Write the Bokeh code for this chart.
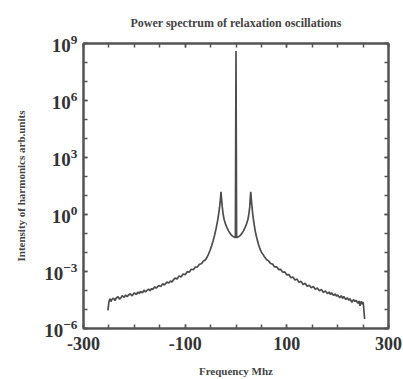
from bokeh.plotting import figure
from bokeh.models import (LinearAxis, LogAxis, FixedTicker, ColumnDataSource,
                          CustomJSTickFormatter)
from bokeh.embed import file_html
from bokeh.resources import INLINE

# ---- data ----
freq_mhz = [
    -252, -250, -248, -246, -244, -241, -238, -236, -232, -229, -226, -224, -220, -217, -214, -212, -208, -205, -202,
    -200, -196, -193, -190, -188, -184, -181, -178, -176, -172, -169, -166, -164, -160, -157, -154, -152, -148,
    -144, -141, -138, -136, -132, -129, -126, -124, -120, -116, -112, -108, -104, -100, -96, -92,
    -88, -84, -80, -76, -72, -68, -64, -60, -57, -54, -51, -48, -45, -42, -39, -36,
    -34, -32, -30.5, -29.5, -28.5, -27, -25.5, -23.5, -21, -18, -15, -12, -9, -6, -3,
    -1.2, -0.6, 0, 0.6, 1.2, 3, 6, 9, 12, 15, 18, 21, 23.5, 25.5, 27, 28, 29, 30,
    31.5, 33, 35, 38, 41, 44, 47, 50, 53, 56, 60, 64, 68, 72, 76, 80, 84, 88, 92, 96,
    100, 104, 108, 112, 116, 120, 124, 128, 132, 136, 140, 144, 148, 152, 156, 160,
    164, 168, 172, 176, 180, 183, 186, 188, 192, 195, 198, 200, 204, 207, 210, 212, 216, 219, 222, 224,
    228, 231, 234, 236, 240, 242, 244, 246, 248, 250, 251, 253,
]
log10_intensity = [
    -5.05, -4.60, -4.44, -4.58, -4.47, -4.40, -4.53, -4.41, -4.33, -4.46, -4.37, -4.27, -4.36, -4.24, -4.33, -4.25, -4.17, -4.28, -4.19,
    -4.12, -4.21, -4.08, -4.16, -4.05, -4.12, -3.98, -4.08, -4.02, -3.93, -4.01, -3.90, -3.95, -3.81, -3.88, -3.80, -3.74, -3.79,
    -3.64, -3.71, -3.63, -3.56, -3.61, -3.50, -3.55, -3.47, -3.35, -3.39, -3.23, -3.29, -3.13, -3.17, -3.01, -3.04,
    -2.88, -2.91, -2.77, -2.76, -2.62, -2.59, -2.45, -2.38, -2.25, -2.08, -1.88, -1.65, -1.38, -1.08, -0.72, -0.30,
    0.05, 0.45, 0.85, 1.20, 0.85, 0.40, 0.05, -0.25, -0.47, -0.68, -0.85, -0.98, -1.08, -1.15, -1.20,
    -1.22, 3.70, 8.60, 3.70, -1.22, -1.20, -1.15, -1.08, -0.98, -0.85, -0.68, -0.47, -0.25, 0.05, 0.40, 0.85, 1.20, 0.85,
    0.40, 0.00, -0.40, -0.90, -1.25, -1.55, -1.80, -1.98, -2.10, -2.22, -2.37, -2.44, -2.58, -2.61, -2.76, -2.75, -2.90, -2.89, -3.04, -3.02,
    -3.18, -3.16, -3.33, -3.29, -3.45, -3.40, -3.57, -3.52, -3.68, -3.62, -3.78, -3.72, -3.86, -3.79, -3.93, -3.87,
    -4.01, -3.95, -4.10, -4.03, -4.17, -4.08, -4.21, -4.12, -4.26, -4.18, -4.30, -4.23, -4.38, -4.27, -4.42, -4.31, -4.47, -4.38, -4.52, -4.43,
    -4.62, -4.48, -4.58, -4.51, -4.68, -4.55, -4.80, -4.57, -4.72, -4.60, -4.83, -5.50,
]
intensity = [10.0 ** v for v in log10_intensity]

x_major_ticks = [-300, -100, 100, 300]
x_minor_ticks = [-300, -250, -200, -150, -100, -50, 0, 50, 100, 150, 200, 250, 300]
y_major_ticks = [1e-6, 1e-3, 1e0, 1e3, 1e6, 1e9]
y_minor_ticks = [1e-6, 1e-5, 1e-4, 1e-3, 1e-2, 1e-1, 1e0, 1e1, 1e2, 1e3, 1e4, 1e5, 1e6, 1e7, 1e8, 1e9]

title_text = "Power spectrum of relaxation oscillations"
x_label = "Frequency Mhz"
y_label = "Intensity of harmonics arb.units"

# ---- style ----
SERIF = "Liberation Serif"
FRAME = "#555555"
TEXT = "#333333"
LINE = "#4d4d4d"

p = figure(width=403, height=379, x_range=(-300, 300), y_range=(1e-6, 1e9),
           y_axis_type="log", output_backend="svg", toolbar_location=None,
           min_border_left=83, min_border_right=15, min_border_top=42,
           min_border_bottom=49, background_fill_color="white",
           border_fill_color="white")

src = ColumnDataSource(dict(x=freq_mhz, y=intensity))
p.line("x", "y", source=src, line_color=LINE, line_width=1.7)

p.grid.visible = False
p.outline_line_color = FRAME
p.outline_line_width = 2

p.title.text = title_text
p.title.align = "center"
p.title.text_font = SERIF
p.title.text_font_size = "12px"
p.title.text_font_style = "bold"
p.title.text_color = "#444444"
p.title.standoff = 27

xt = FixedTicker(ticks=x_major_ticks, minor_ticks=x_minor_ticks)
yt = FixedTicker(ticks=y_major_ticks, minor_ticks=y_minor_ticks)

plain = CustomJSTickFormatter(code="return String(tick);")


def style(ax, labels=True):
    ax.axis_line_color = FRAME
    ax.axis_line_width = 2
    ax.major_tick_in = 4
    ax.major_tick_out = 0
    ax.minor_tick_in = 4
    ax.minor_tick_out = 0
    ax.major_tick_line_color = FRAME
    ax.minor_tick_line_color = FRAME
    ax.major_tick_line_width = 1.5
    ax.minor_tick_line_width = 1.5
    if labels:
        ax.major_label_text_font = SERIF
        ax.major_label_text_font_style = "bold"
        ax.major_label_text_font_size = "18px"
        ax.major_label_text_color = TEXT
        ax.axis_label_text_font = SERIF
        ax.axis_label_text_font_style = "bold"
        ax.axis_label_text_font_size = "11px"
        ax.axis_label_text_color = "#444444"
    else:
        ax.major_label_text_font_size = "1px"
        ax.major_label_text_alpha = 0
        ax.major_label_standoff = 0


xa = p.xaxis[0]
xa.ticker = xt
xa.formatter = plain
xa.axis_label = x_label
xa.major_label_standoff = 8
xa.axis_label_standoff = 12
style(xa)

ya = p.yaxis[0]
ya.ticker = yt
ya.axis_label = y_label
ya.major_label_standoff = 6
ya.axis_label_standoff = 14
style(ya)
ya.major_label_text_font_size = "19px"

top = LinearAxis(ticker=FixedTicker(ticks=x_major_ticks, minor_ticks=x_minor_ticks))
style(top, labels=False)
p.add_layout(top, "above")

right = LogAxis(ticker=FixedTicker(ticks=y_major_ticks, minor_ticks=y_minor_ticks))
style(right, labels=False)
p.add_layout(right, "right")

open("out.html", "w").write(file_html(p, INLINE))
